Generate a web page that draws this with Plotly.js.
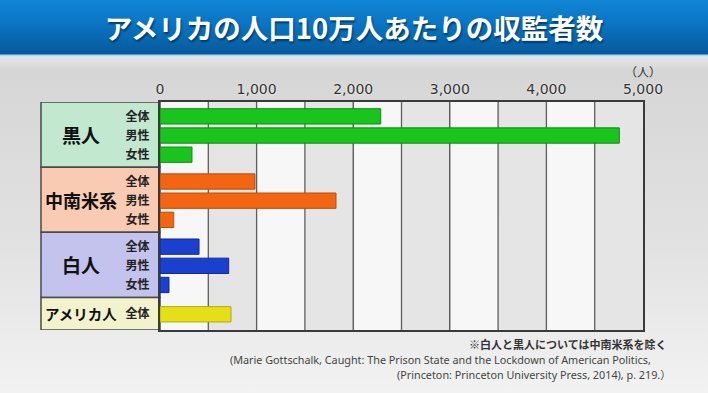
<!DOCTYPE html>
<html><head><meta charset="utf-8">
<script src="https://cdn.plot.ly/plotly-3.0.1.min.js"></script>
<style>
html,body{margin:0;padding:0;}
#wrap{position:relative;width:708px;height:393px;overflow:hidden;
background:linear-gradient(to bottom,#1186d6 0px,#0a74c2 24px,#075a9c 54px,#9fd2f0 55px,#e4e6e8 57px,#d6d6d6 70px,#e2e2e2 250px,#f2f2f2 393px);}
#chart{position:absolute;left:0;top:0;width:708px;height:393px;}
</style></head>
<body><div id="wrap"><div id="chart"></div></div>
<script>
const titleText = 'アメリカの人口10万人あたりの収監者数';
const groups = ['黒人', '中南米系', '白人', 'アメリカ人'];
const subLabels = ['全体', '男性', '女性'];
const usLabels = ['全体'];
const blackValues = [2285, 4755, 331];
const latinoValues = [983, 1822, 142];
const whiteValues = [404, 711, 93];
const usValues = [735];
const xTicks = [0, 1000, 2000, 3000, 4000, 5000];
const unitLabel = '（人）';
const noteText = '※白人と黒人については中南米系を除く';
const sourceLine1 = '(Marie Gottschalk, Caught: The Prison State and the Lockdown of American Politics,';
const sourceLine2 = '(Princeton: Princeton University Press, 2014), p. 219.）';

const groupValues = [blackValues, latinoValues, whiteValues, usValues];
const groupSubs = [subLabels, subLabels, subLabels, usLabels];
const barColors = ['#19c41c', '#f26512', '#1b3fcf', '#e6df18'];
const barLines = ['#0c8f10', '#c24a08', '#0f2898', '#b0aa08'];
const panelColors = ['#c2e9cf', '#f9cbb2', '#c3c3ee', '#f2f2cc'];
const groupNameSize = [19, 18, 19, 14.5];

const SPAN = 3.4, US_SPAN = 1.7;
let start = 0;
const traces = [], tickvals = [], ticktext = [], shapes = [], annotations = [];
const starts = [], ends = [];
groupValues.forEach((vals, g) => {
  const span = g === 3 ? US_SPAN : SPAN;
  const off = g === 3 ? 0.88 : 0.75;
  const ys = vals.map((v, i) => start + off + i);
  traces.push({type:'bar', orientation:'h', x: vals, y: ys, width: 0.8,
    marker:{color: barColors[g], line:{color: barLines[g], width: 1}},
    hoverinfo:'x', showlegend:false});
  ys.forEach((y, i) => { tickvals.push(y); ticktext.push(groupSubs[g][i]); });
  starts.push(start); ends.push(start + span);
  start += span;
});
const total = start;
const panelX0 = -(160 - 41) / 483;

for (let v = 0; v < 5000; v += 500) {
  shapes.push({type:'rect', xref:'x', yref:'paper', x0:v, x1:v+500, y0:0, y1:1,
    fillcolor: (v/500) % 2 === 0 ? '#f7f7f7' : '#e5e5e5', line:{width:0}, layer:'below'});
}
for (let v = 500; v < 5000; v += 500) {
  shapes.push({type:'line', xref:'x', yref:'paper', x0:v, x1:v, y0:0, y1:1,
    line:{color:'#5e5e5e', width:1.3}, layer:'below'});
}
groups.forEach((name, g) => {
  shapes.push({type:'rect', xref:'paper', yref:'y', x0:panelX0, x1:0, y0:starts[g], y1:ends[g],
    fillcolor: panelColors[g], line:{color:'#4a4a4a', width:1.5}, layer:'below'});
  annotations.push({xref:'paper', yref:'y', x:-0.163, y:(starts[g]+ends[g])/2, text:name,
    showarrow:false, xanchor:'center', yanchor:'middle',
    font:{family:'Noto Sans CJK JP', size:groupNameSize[g], color:'#111', weight:'bold'}});
});
annotations.push({xref:'x', yref:'paper', x:5000, y:1, yshift:31, text:unitLabel, showarrow:false,
  xanchor:'center', yanchor:'middle', font:{family:'Noto Sans CJK JP', size:12, color:'#333'}});
annotations.push({xref:'paper', yref:'paper', x:1.052, y:0, yshift:-14, text:noteText, showarrow:false,
  xanchor:'right', yanchor:'middle', font:{family:'Noto Sans CJK JP', size:11, color:'#333', weight:'bold'}});
annotations.push({xref:'paper', yref:'paper', x:0.141, y:0, yshift:-29.5, text:sourceLine1, showarrow:false,
  xanchor:'left', yanchor:'middle', font:{family:'Noto Sans, Noto Sans CJK JP', size:10.8, color:'#444'}});
annotations.push({xref:'paper', yref:'paper', x:1.062, y:0, yshift:-44.5, text:sourceLine2, showarrow:false,
  xanchor:'right', yanchor:'middle', font:{family:'Noto Sans, Noto Sans CJK JP', size:10.8, color:'#444'}});

const layout = {
  width:708, height:393,
  margin:{l:160, r:65, t:102, b:63, pad:0},
  paper_bgcolor:'rgba(0,0,0,0)', plot_bgcolor:'rgba(0,0,0,0)',
  title:{text:titleText, x:0.5, xanchor:'center', y:1 - 29/393, yref:'container', yanchor:'middle',
    font:{family:'Noto Sans CJK JP', size:27.5, color:'#ffffff', weight:'bold', shadow:'1px 2px 2px #033a66'}},
  xaxis:{side:'top', range:[0,5000], tickvals:xTicks, ticktext:xTicks.map(v => v.toLocaleString('en-US')),
    showgrid:true, gridcolor:'#5e5e5e', gridwidth:1.3, zeroline:false,
    showline:true, mirror:true, linecolor:'#3a3a3a', linewidth:2, ticks:'',
    ticklabelstandoff:0,
    tickfont:{family:'DejaVu Sans', size:14, color:'#333', weight:'normal', shadow:'0px 0px 2px #ffffff'}, fixedrange:true},
  yaxis:{range:[total, 0], tickvals:tickvals, ticktext:ticktext, showgrid:false, zeroline:false,
    showline:true, mirror:true, linecolor:'#3a3a3a', linewidth:2, ticks:'', ticklabelstandoff:6,
    tickfont:{family:'Noto Sans CJK JP', size:12, color:'#222', weight:'bold'}, fixedrange:true},
  shapes:shapes, annotations:annotations
};
Plotly.newPlot('chart', traces, layout, {displayModeBar:false, staticPlot:true});
</script></body></html>
